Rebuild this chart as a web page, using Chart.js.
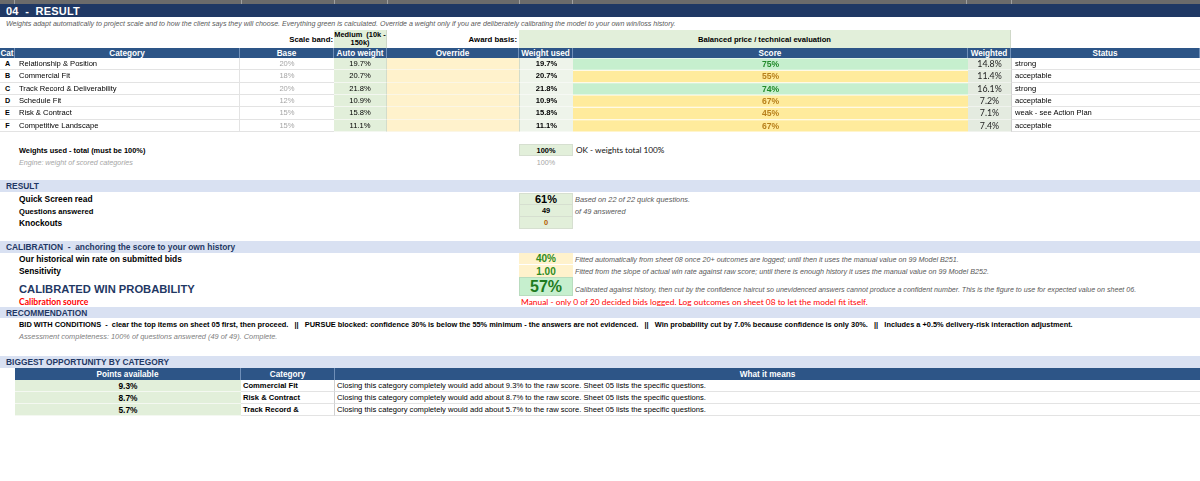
<!DOCTYPE html>
<html>
<head>
<meta charset="utf-8">
<script src="https://cdn.jsdelivr.net/npm/chart.js@4.4.1/dist/chart.umd.min.js"></script>
<style>
  html, body { margin: 0; padding: 0; background: #fff; }
  #sheet { position: relative; width: 1200px; height: 481px; overflow: hidden; font-family: Arial, "Liberation Sans", sans-serif; }
  .c { position: absolute; display: flex; align-items: center; box-sizing: border-box; white-space: nowrap;
       font-size: 7.6px; color: #000; }
  .b { font-weight: bold; }
  .i { font-style: italic; }
  .cal { font-family: Lato, "Open Sans", sans-serif; }
  .hd { background: #2d5587; color: #fff; font-weight: bold; font-size: 8.2px; justify-content: center;
        border-right: 1px solid #6f8fb8; }
  .band { background: #d9e1f2; color: #1f3864; font-weight: bold; font-size: 8.4px; padding-left: 6px; }
  #scoreBox { position: absolute; left: 573px; top: 58px; width: 395px; height: 74px; }
</style>
</head>
<body>
<div id="sheet">
  <div id="scoreBox"><canvas id="scoreChart"></canvas></div>
</div>
<script>
// category table
const cats = ["A", "B", "C", "D", "E", "F"];
const categories = ["Relationship & Position", "Commercial Fit", "Track Record & Deliverability",
                    "Schedule Fit", "Risk & Contract", "Competitive Landscape"];
const baseWeights = [20, 18, 20, 12, 15, 15];
const autoWeights = [19.7, 20.7, 21.8, 10.9, 15.8, 11.1];
const usedWeights = [19.7, 20.7, 21.8, 10.9, 15.8, 11.1];
const scores = [75, 55, 74, 67, 45, 67];
const weighted = [14.8, 11.4, 16.1, 7.2, 7.1, 7.4];
const statuses = ["strong", "acceptable", "strong", "acceptable", "weak - see Action Plan", "acceptable"];

// biggest opportunity
const oppPoints = [9.3, 8.7, 5.7];
const oppCats = ["Commercial Fit", "Risk & Contract", "Track Record &"];

const sheet = document.getElementById("sheet");

function box(x, y, w, h, html, cls, css) {
    const d = document.createElement("div");
    d.className = "c " + (cls || "");
    d.style.left = x + "px";
    d.style.top = y + "px";
    d.style.width = w + "px";
    d.style.height = h + "px";
    Object.assign(d.style, css || {});
    d.innerHTML = html;
    sheet.appendChild(d);
    return d;
}

const GREEN = "#e2efda";
const YELLOW = "#fff2cc";
const NAVY = "#1f3864";

// spreadsheet column strip at the very top
box(0, 0, 1200, 4, "", "", { background: "#6b6b6b" });
[14, 241, 334, 387, 519, 572, 966, 1011].forEach(x => box(x, 0, 1, 4, "", "", { background: "#a0a0a0" }));

// title
box(0, 4, 1200, 13, "04 &nbsp;- &nbsp;RESULT", "b", { background: NAVY, color: "#fff", fontSize: "11px", paddingLeft: "6px", letterSpacing: "0.2px" });
box(6, 18, 1000, 10, "Weights adapt automatically to project scale and to how the client says they will choose. Everything green is calculated. Override a weight only if you are deliberately calibrating the model to your own win/loss history.",
    "i", { color: "#595959", fontSize: "7.05px" });

// scale band / award basis
box(240, 30, 93, 18, "Scale band:", "b", { justifyContent: "flex-end", fontSize: "7.8px" });
box(334, 30, 53, 18, "Medium&nbsp; (10k -<br>150k)", "b", { background: GREEN, justifyContent: "center", textAlign: "center",
    whiteSpace: "normal", lineHeight: "8.5px", fontSize: "7.4px", borderRight: "1px solid #cfd8c8" });
box(387, 30, 130, 18, "Award basis:", "b", { justifyContent: "flex-end", fontSize: "7.8px" });
box(519, 30, 492, 18, "Balanced price / technical evaluation", "b", { background: GREEN, justifyContent: "center", fontSize: "7.6px",
    borderRight: "1px solid #cfd8c8" });

// header row
const cols = [[0, 15, "Cat"], [15, 225, "Category"], [240, 94, "Base"], [334, 53, "Auto weight"], [387, 132, "Override"],
              [519, 54, "Weight used"], [573, 395, "Score"], [968, 43, "Weighted"], [1011, 189, "Status"]];
cols.forEach(c => box(c[0], 48, c[1], 10, c[2], "hd"));

// category rows
const rowTop = 58, rowH = 74 / cats.length;
cats.forEach((cat, i) => {
    const y = rowTop + i * rowH;
    const line = { borderBottom: "1px solid #e3e3e3" };
    box(0, y, 15, rowH, cat, "b", Object.assign({ justifyContent: "center", fontSize: "7.2px" }, line));
    box(15, y, 225, rowH, categories[i], "", Object.assign({ paddingLeft: "4px", borderRight: "1px solid #e3e3e3" }, line));
    box(240, y, 94, rowH, baseWeights[i] + "%", "", Object.assign({ justifyContent: "center", color: "#a6a6a6" }, line));
    box(334, y, 53, rowH, autoWeights[i].toFixed(1) + "%", "", { justifyContent: "center", background: GREEN,
        borderBottom: "1px solid #f3f7f0", borderRight: "1px solid #d3dccb" });
    box(387, y, 132, rowH, "", "", { background: YELLOW, borderBottom: "1px solid #fbf6e6" });
    box(519, y, 54, rowH, usedWeights[i].toFixed(1) + "%", "b", { justifyContent: "center", background: "#eef4ea",
        borderBottom: "1px solid #f6f9f4", borderLeft: "1px solid #d3dccb" });
    box(968, y, 43, rowH, weighted[i].toFixed(1) + "%", "cal", { justifyContent: "center", background: "#e4ebe0",
        fontSize: "8.8px", color: "#222", borderBottom: "1px solid #f0f3ee" });
    box(1011, y, 189, rowH, statuses[i], "", Object.assign({ paddingLeft: "3px", borderLeft: "1px solid #d0d0d0" }, line));
});

// weights total
box(19, 144, 400, 12, "Weights used - total (must be 100%)", "b", { fontSize: "7.4px" });
box(519, 144, 54, 12, "100%", "b", { justifyContent: "center", background: GREEN, fontSize: "7.4px", border: "1px solid #d6dfd0" });
box(576, 144, 200, 12, "OK - weights total 100%", "cal", { fontSize: "8.2px", color: "#111" });
box(19, 157, 400, 11, "Engine: weight of scored categories", "i", { color: "#a6a6a6", fontSize: "7.2px" });
box(519, 157, 54, 11, "100%", "", { justifyContent: "center", color: "#a6a6a6", fontSize: "7.2px" });

// RESULT block
box(0, 180, 1200, 12, "RESULT", "band");
box(19, 193, 300, 12, "Quick Screen read", "b", { fontSize: "8.4px" });
box(519, 193, 54, 12, "61%", "b", { justifyContent: "center", background: GREEN, fontSize: "11px", border: "1px solid #d6dfd0" });
box(575, 193, 300, 12, "Based on 22 of 22 quick questions.", "i", { color: "#595959", fontSize: "7.4px" });
box(19, 205, 300, 12, "Questions answered", "b", { fontSize: "7.6px" });
box(519, 205, 54, 12, "49", "b", { justifyContent: "center", background: GREEN, fontSize: "7.4px", border: "1px solid #d6dfd0", borderTop: "none" });
box(575, 205, 300, 12, "of 49 answered", "i", { color: "#595959", fontSize: "7.4px" });
box(19, 217, 300, 12, "Knockouts", "b", { fontSize: "8.4px" });
box(519, 217, 54, 12, "0", "b", { justifyContent: "center", background: GREEN, color: "#b35a00", fontSize: "7.4px", border: "1px solid #d6dfd0", borderTop: "none" });

// CALIBRATION block
box(0, 241, 1200, 12, "CALIBRATION&nbsp; - &nbsp;anchoring the score to your own history", "band");
box(19, 253, 400, 12, "Our historical win rate on submitted bids", "b", { fontSize: "8.4px" });
box(519, 253, 54, 12, "40%", "b", { justifyContent: "center", background: YELLOW, color: "#2e8b22", fontSize: "10px", borderBottom: "1px solid #fff" });
box(575, 253, 600, 12, "Fitted automatically from sheet 08 once 20+ outcomes are logged; until then it uses the manual value on 99 Model B251.", "i", { color: "#595959", fontSize: "7.2px" });
box(19, 265, 400, 12, "Sensitivity", "b", { fontSize: "8.4px" });
box(519, 265, 54, 12, "1.00", "b", { justifyContent: "center", background: YELLOW, color: "#2e8b22", fontSize: "10px" });
box(575, 265, 600, 12, "Fitted from the slope of actual win rate against raw score; until there is enough history it uses the manual value on 99 Model B252.", "i", { color: "#595959", fontSize: "7.2px" });
box(19, 277, 400, 19, "CALIBRATED WIN PROBABILITY", "b", { color: NAVY, fontSize: "11.2px", paddingTop: "4px" });
box(519, 277, 54, 19, "57%", "b", { justifyContent: "center", background: "#c6efce", color: "#1e7b1e", fontSize: "16px", border: "1px solid #b9dcbf" });
box(575, 280, 620, 19, "Calibrated against history, then cut by the confidence haircut so unevidenced answers cannot produce a confident number. This is the figure to use for expected value on sheet 06.", "i", { color: "#595959", fontSize: "7.1px" });
box(19, 296, 300, 11, "Calibration source", "b cal", { color: "#ff0000", fontSize: "8.6px" });
box(521, 296, 600, 11, "Manual - only 0 of 20 decided bids logged. Log outcomes on sheet 08 to let the model fit itself.", "cal", { color: "#ff0000", fontSize: "8.4px" });

// RECOMMENDATION block
box(0, 307, 1200, 11, "RECOMMENDATION", "band");
box(19, 319, 1100, 11, "BID WITH CONDITIONS&nbsp; - &nbsp;clear the top items on sheet 05 first, then proceed. &nbsp;&nbsp;||&nbsp;&nbsp; PURSUE blocked: confidence 30% is below the 55% minimum - the answers are not evidenced. &nbsp;&nbsp;||&nbsp;&nbsp; Win probability cut by 7.0% because confidence is only 30%. &nbsp;&nbsp;||&nbsp;&nbsp; Includes a +0.5% delivery-risk interaction adjustment.",
    "b", { fontSize: "7.4px" });
box(19, 331, 600, 11, "Assessment completeness: 100% of questions answered (49 of 49). Complete.", "i", { color: "#808080", fontSize: "7.4px" });

// BIGGEST OPPORTUNITY block
box(0, 356, 1200, 12, "BIGGEST OPPORTUNITY BY CATEGORY", "band");
box(15, 368, 226, 12, "Points available", "hd");
box(241, 368, 94, 12, "Category", "hd");
box(335, 368, 865, 12, "What it means", "hd", { borderRight: "none" });
oppPoints.forEach((p, i) => {
    const y = 380 + i * 12;
    box(15, y, 226, 12, p.toFixed(1) + "%", "b", { justifyContent: "center", background: GREEN, fontSize: "8.4px", borderBottom: "1px solid #f4f8f1" });
    box(241, y, 94, 12, oppCats[i], "b", { paddingLeft: "2px", borderBottom: "1px solid #e3e3e3", borderRight: "1px solid #d0d0d0" });
    box(335, y, 865, 12, "Closing this category completely would add about " + p.toFixed(1) + "% to the raw score. Sheet 05 lists the specific questions.",
        "", { paddingLeft: "2px", borderBottom: "1px solid #e3e3e3" });
});

// score column, one full-width bar per category row
const strong = s => s >= 70;
new Chart(document.getElementById("scoreChart"), {
    type: "bar",
    data: {
        labels: categories,
        datasets: [{
            data: scores.map(() => [0, 100]),
            backgroundColor: scores.map(s => strong(s) ? "#c6efce" : "#ffeb9c"),
            borderWidth: 0,
            barPercentage: 0.92,
            categoryPercentage: 1
        }]
    },
    options: {
        indexAxis: "y",
        responsive: true,
        maintainAspectRatio: false,
        animation: false,
        layout: { padding: 0 },
        scales: {
            x: { display: false, min: 0, max: 100 },
            y: { display: false }
        },
        plugins: { legend: { display: false }, tooltip: { enabled: false } }
    },
    plugins: [{
        id: "scoreText",
        afterDatasetsDraw(chart) {
            const ctx = chart.ctx;
            const meta = chart.getDatasetMeta(0);
            ctx.save();
            ctx.font = "bold 8.6px Arial, 'Liberation Sans', sans-serif";
            ctx.textAlign = "center";
            ctx.textBaseline = "middle";
            meta.data.forEach((bar, i) => {
                ctx.fillStyle = strong(scores[i]) ? "#218a2b" : "#b8801c";
                ctx.fillText(scores[i] + "%", chart.scales.x.getPixelForValue(50), bar.y + 0.5);
            });
            ctx.restore();
        }
    }]
});
</script>
</body>
</html>
